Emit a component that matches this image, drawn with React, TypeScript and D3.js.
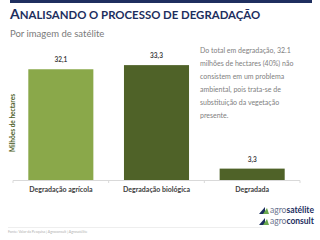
import React, { useRef, useEffect } from 'react';
import * as d3 from 'd3';

const categories = ['Degradação agrícola', 'Degradação biológica', 'Degradada'];
const values = [32.1, 33.3, 3.3];
const valueLabels = ['32,1', '33,3', '3,3'];
const barColors = ['#8aa84a', '#4f6228', '#4f6228'];
const noteLines = [
  'Do total em degradação, 32.1',
  'milhões de hectares (40%) não',
  'consistem em um problema',
  'ambiental, pois trata-se de',
  'substituição da vegetação',
  'presente.',
];

const font = 'Lato, "Open Sans", sans-serif';

const App = () => {
  const ref = useRef(null);

  useEffect(() => {
    d3.select(ref.current).selectAll('*').remove();
    const svg = d3.select(ref.current);

    // top band
    svg.append('rect').attr('x', 10).attr('y', 0).attr('width', 302).attr('height', 3).attr('fill', '#1f2f5f');

    // title
    const title = svg
      .append('text')
      .attr('x', 10)
      .attr('y', 18.5)
      .style('font-family', font)
      .style('font-weight', 'bold')
      .style('fill', '#1c2e5e');
    title.append('tspan').style('font-size', '14px').text('A');
    title.append('tspan').style('font-size', '11.4px').text('NALISANDO O PROCESSO DE DEGRADAÇÃO');

    svg
      .append('text')
      .attr('x', 10)
      .attr('y', 37)
      .text('Por imagem de satélite')
      .style('font-family', font)
      .style('font-size', '9.5px')
      .style('fill', '#7a7a7a');

    const x = d3.scaleBand().domain(categories).range([13, 300]).paddingInner(0.32).paddingOuter(0.16);
    const y = d3.scaleLinear().domain([0, 40]).range([180, 42]);
    const half = (x.step() * 0.32) / 2;

    // axis line + ticks
    svg.append('line').attr('x1', 13).attr('x2', 300).attr('y1', 180.5).attr('y2', 180.5).attr('stroke', '#d9d9d9');
    const tickX = categories.map(c => x(c) - half).concat([x(categories[2]) + x.bandwidth() + half]);
    svg
      .selectAll('.tick')
      .data(tickX)
      .enter()
      .append('line')
      .attr('x1', d => d)
      .attr('x2', d => d)
      .attr('y1', 180.5)
      .attr('y2', 183)
      .attr('stroke', '#d9d9d9');

    svg
      .selectAll('.bar')
      .data(values)
      .enter()
      .append('rect')
      .attr('x', (d, i) => x(categories[i]))
      .attr('y', d => y(d))
      .attr('width', x.bandwidth())
      .attr('height', d => 180 - y(d))
      .attr('fill', (d, i) => barColors[i]);

    svg
      .selectAll('.vlabel')
      .data(values)
      .enter()
      .append('text')
      .attr('x', (d, i) => x(categories[i]) + x.bandwidth() / 2)
      .attr('y', d => y(d) - 7)
      .attr('text-anchor', 'middle')
      .text((d, i) => valueLabels[i])
      .style('font-family', font)
      .style('font-size', '6.5px')
      .style('font-weight', 'bold')
      .style('fill', '#404040');

    svg
      .selectAll('.clabel')
      .data(categories)
      .enter()
      .append('text')
      .attr('x', d => x(d) + x.bandwidth() / 2)
      .attr('y', 192)
      .attr('text-anchor', 'middle')
      .text(d => d)
      .style('font-family', font)
      .style('font-size', '7px')
      .style('font-weight', 'bold')
      .style('fill', '#404040');

    svg
      .append('text')
      .attr('transform', 'translate(15,123) rotate(-90)')
      .attr('text-anchor', 'middle')
      .text('Milhões de hectares')
      .style('font-family', font)
      .style('font-size', '6.5px')
      .style('font-weight', 'bold')
      .style('fill', '#4f6228');

    svg
      .selectAll('.note')
      .data(noteLines)
      .enter()
      .append('text')
      .attr('x', 200)
      .attr('y', (d, i) => 53 + i * 13)
      .text(d => d)
      .style('font-family', font)
      .style('font-size', '7px')
      .style('fill', '#808080');

    // footer
    svg.append('line').attr('x1', 8).attr('x2', 262).attr('y1', 227.5).attr('y2', 227.5).attr('stroke', '#eeeeee');
    svg
      .append('text')
      .attr('x', 8)
      .attr('y', 233)
      .text('Fonte: Valor da Pesquisa | Agroconsult | Agrosatélite')
      .style('font-family', font)
      .style('font-size', '3.5px')
      .style('fill', '#b0b0b0');

    // logos
    const logos = [
      { y: 213, bold: 'satélite' },
      { y: 224, bold: 'consult' },
    ];
    logos.forEach(l => {
      svg
        .append('path')
        .attr('d', `M259,${l.y + 1} L265,${l.y - 6} L265,${l.y + 1} Z`)
        .attr('fill', '#1c2e5e');
      svg
        .append('path')
        .attr('d', `M263,${l.y + 1} L267,${l.y - 5} L269,${l.y + 1} Z`)
        .attr('fill', '#6aa84f');
      const t = svg
        .append('text')
        .attr('x', 270)
        .attr('y', l.y)
        .style('font-family', font)
        .style('font-size', '8.5px')
        .style('fill', '#1c2e5e');
      t.append('tspan').text('agro').style('fill', '#6b7590');
      t.append('tspan').text(l.bold).style('font-weight', 'bold');
    });
  }, []);

  return (
    <svg
      ref={ref}
      width={320}
      height={240}
      style={{ position: 'absolute', left: 0, top: 0, background: '#fff' }}
    />
  );
};

export default App;
